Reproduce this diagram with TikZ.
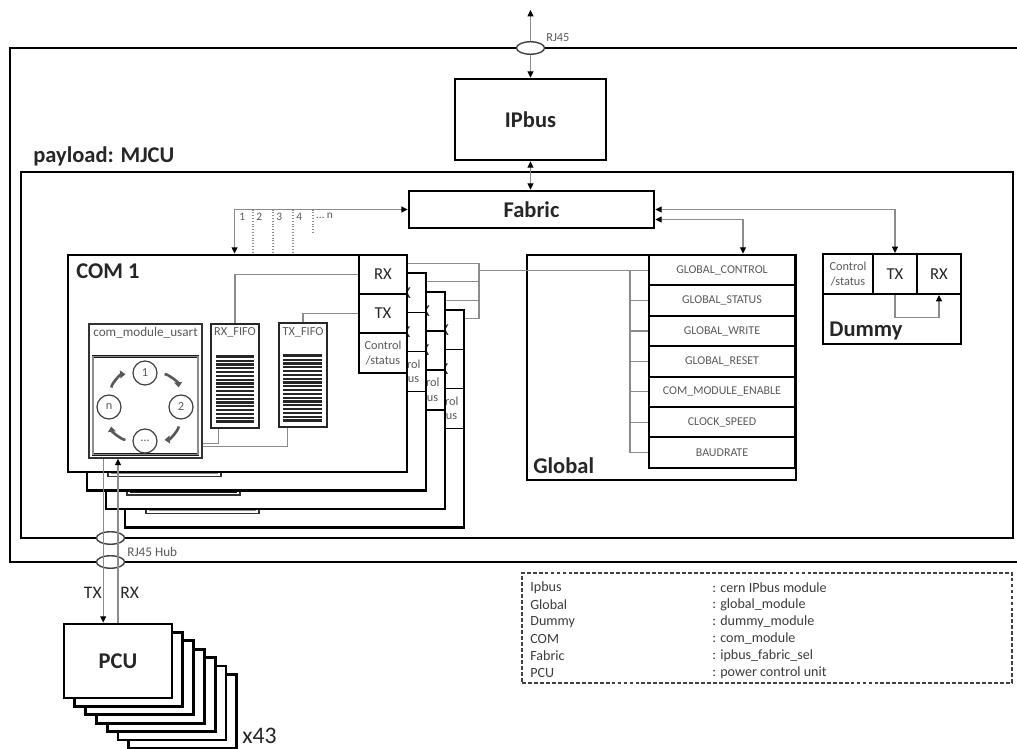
\documentclass[tikz,border=0pt]{standalone}
\usepackage{fontspec}
\setmainfont{Carlito}
\usepackage{xcolor}
\usepackage{tikz}
\usetikzlibrary{arrows.meta,shapes.geometric}

\definecolor{wiregray}{HTML}{8C8C8C}
\definecolor{labelgray}{HTML}{5A5A5A}
\definecolor{darktext}{HTML}{262626}

\begin{document}
\begin{tikzpicture}[
				x=0.2mm,
				y=-0.2mm,
				>={Triangle[length=3.6pt,width=3.4pt,color=black]},
				boxframe/.style={
					draw=black,
					line width=1.6pt,
					fill=white,
					inner sep=0pt
				},
				block/.style={
					boxframe,
					font=\bfseries\fontsize{12.8}{14}\selectfont,
					text=darktext
				},
				cell/.style={
					draw=black,
					line width=1.1pt,
					fill=white,
					inner sep=0pt,
					align=center
				},
				fifo/.style={
					draw=black!85,
					line width=0.9pt,
					fill=white,
					inner sep=0pt,
					minimum width=9.6mm,
					minimum height=20.8mm
				},
				state/.style={
					circle,
					draw=black!75,
					line width=0.7pt,
					fill=white,
					minimum size=4.8mm,
					inner sep=0pt,
					font=\fontsize{7}{8}\selectfont,
					text=labelgray
				},
				spin/.style={
					draw=black!65,
					line width=1.5pt,
					shorten <=1.4mm,
					shorten >=1.4mm,
					-{Triangle[length=3pt,width=4.4pt]}
				},
				wire/.style={
					draw=wiregray,
					line width=0.6pt
				},
				jack/.style={
					ellipse,
					draw=black!75,
					line width=0.8pt,
					fill=white,
					minimum width=5.6mm,
					minimum height=2.5mm,
					inner sep=0pt
				},
				title/.style={
					font=\bfseries\fontsize{12.8}{14}\selectfont,
					text=darktext,
					inner sep=0pt
				},
				smalltext/.style={
					font=\fontsize{7}{8}\selectfont,
					text=labelgray,
					inner sep=0pt
				},
				port/.style={
					font=\fontsize{9.5}{10}\selectfont,
					text=darktext
				},
				reg/.style={
					cell,
					minimum width=29.2mm,
					minimum height=6.08mm,
					font=\fontsize{6.8}{8}\selectfont,
					text=labelgray
				},
				legendtext/.style={
					font=\fontsize{8}{9}\selectfont,
					text=darktext!90,
					inner sep=0pt
				}
			]

				\useasboundingbox (0,0) rectangle (1017,749);

				\node[boxframe, minimum width=202.8mm, minimum height=102.8mm] (board) at (517,305) {};
				\node[boxframe, minimum width=198.4mm, minimum height=73.2mm] (payload) at (517,355) {};
				\node[title, anchor=base west] (payloadname) at (33,163) {payload: MJCU};

				\node[block, minimum width=30.2mm, minimum height=16.2mm] (ipbus) at (530.5,119.5) {IPbus};
				\coordinate (lan) at (530.5,10);
				\draw[wire, <->] (lan) -- (ipbus.north);
				\node[jack] (rj45) at (530.5,48) {};
				\node[smalltext, anchor=west] (rj45name) at (546,38) {RJ45};

				\node[block, minimum width=49mm, minimum height=7.4mm] (fabric) at (531.5,209.5) {Fabric};
				\draw[wire, <->] (ipbus.south) -- (ipbus.south |- fabric.north);

				\foreach \i in {3,2,1,0} {
					\begin{scope}[shift={(19*\i,18.5*\i)}]
						\node[boxframe, minimum width=67.8mm, minimum height=43.4mm] (com\i) at (237.5,363.5) {};
						\node[cell, port, minimum width=9.6mm, minimum height=7.8mm] (rx\i) at (383,274.5) {RX};
						\node[cell, port, minimum width=9.6mm, minimum height=7.8mm] (tx\i) at (383,313.5) {TX};
						\node[cell, smalltext, minimum width=9.6mm, minimum height=8mm] (ctl\i) at (383,353) {Control\\/status};
						\node[draw=black!80, line width=0.9pt, fill=white, inner sep=0pt,
							minimum width=22.6mm, minimum height=26.8mm] (usart\i) at (145.5,391) {};
						\node[draw=black!90, double=black!45, double distance=0.8pt, line width=0.45pt, fill=white, inner sep=0pt,
							minimum width=21mm, minimum height=19.6mm] (ring\i) at (145.5,405.5) {};
						\node[fifo] (rxfifo\i) at (235,376) {};
						\node[fifo] (txfifo\i) at (303,375) {};
						\coordinate (tap\i) at ([yshift=-1.8mm]rx\i.north east);
					\end{scope}
				}

				\node[title, anchor=north west] (comname) at (76,263) {COM 1};
				\node[smalltext, font=\fontsize{7.5}{8}\selectfont, anchor=north] (usartname) at (145.5,327) {com\_module\_usart};
				\node[smalltext, anchor=north] (rxfifoname) at (235,327) {RX\_FIFO};
				\node[smalltext, anchor=north] (txfifoname) at (303,327) {TX\_FIFO};

				\fill[black!85] (216,355) rectangle (254,423);
				\fill[black!85] (283,354) rectangle (322,422);
				\foreach \k in {1,...,17} {
					\draw[white, line width=0.8pt] (216,355+3.8*\k) -- (254,355+3.8*\k);
					\draw[white, line width=0.8pt] (283,354+3.8*\k) -- (322,354+3.8*\k);
				}

				\node[state] (st1) at (145,373) {1};
				\node[state] (st2) at (181,407) {2};
				\node[state] (st3) at (145,441) {…};
				\node[state] (stn) at (109,407) {n};
				\draw[spin] (st1) to[bend left=40] (st2);
				\draw[spin] (st2) to[bend left=40] (st3);
				\draw[spin] (st3) to[bend left=40] (stn);
				\draw[spin] (stn) to[bend left=40] (st1);

				\draw[wire] (rxfifo0.north) |- (rx0.west);
				\draw[wire] (txfifo0.north) |- (tx0.west);
				\draw[wire] ([xshift=1.6mm]rxfifo0.south west) |- ([yshift=3mm]usart0.south east);
				\draw[wire] ([xshift=1.8mm]txfifo0.south west) |- ([yshift=2.4mm]usart0.south east);

				\coordinate (busx) at (479,0);
				\foreach \i in {0,...,3}
					\draw[wire] (tap\i) -- (tap\i -| busx);
				\draw[wire] (tap0 -| busx) -- (tap3 -| busx);

				\draw[wire, <->] (fabric.west) -| ([xshift=33.6mm]com0.north west);
				\node[smalltext, font=\fontsize{6.5}{7}\selectfont, anchor=north west] (ch1) at (239,213) {1};
				\foreach \x/\c in {253/2,273/3,293/4} {
					\draw[wire, densely dotted] (\x,0 |- fabric.west) -- (\x,0 |- com0.north);
					\node[smalltext, font=\fontsize{6.5}{7}\selectfont, anchor=north west] (ch\c) at (\x+3,213) {\c};
				}
				\draw[wire, densely dotted] (313,0 |- fabric.west) -- (313,234);
				\node[smalltext, font=\fontsize{6.5}{7}\selectfont, anchor=north west] (chn) at (316,213) {… n};

				\node[boxframe, minimum width=53.8mm, minimum height=45mm] (global) at (661.5,367.5) {};
				\node[title, anchor=base west] (globalname) at (533,474) {Global};
				\foreach \r/\t [count=\k from 0] in {gctl/GLOBAL\_CONTROL, gstat/GLOBAL\_STATUS,
						gwrite/GLOBAL\_WRITE, greset/GLOBAL\_RESET, gcomen/COM\_MODULE\_ENABLE,
						gclk/CLOCK\_SPEED, gbaud/BAUDRATE}
					\node[reg] (\r) at (722,270.2+30.4*\k) {\t};

				\coordinate (gbusx) at (630,0);
				\draw[wire] (gctl.west -| busx) -- (gctl.west);
				\draw[wire] (gctl.west -| gbusx) -- (gbaud.west -| gbusx);
				\foreach \r in {gstat,gwrite,greset,gcomen,gclk,gbaud}
					\draw[wire] (\r.west -| gbusx) -- (\r.west);

				\node[boxframe, minimum width=27.6mm, minimum height=18mm] (dummy) at (892,299) {};
				\node[cell, smalltext, minimum width=10mm, minimum height=8mm] (dctl) at (848,274) {Control\\/status};
				\node[cell, port, minimum width=8.8mm, minimum height=8mm] (dtx) at (895,274) {TX};
				\node[cell, port, minimum width=8.8mm, minimum height=8mm] (drx) at (939,274) {RX};
				\node[title, anchor=base west] (dummyname) at (829,337) {Dummy};
				\draw[wire, ->] (dtx.south) -- ++(0,23) -| (drx.south);

				\draw[wire, <->] (fabric.east) -| (dtx.north);
				\draw[wire, <->] ([yshift=-2mm]fabric.east) -| ([xshift=16.3mm]global.north);

				\foreach \k in {6,5,...,1}
					\node[block, minimum width=21.6mm, minimum height=14.8mm] (pcu\k) at (118+10.8*\k,661+8.4*\k) {};
				\node[block, minimum width=21.6mm, minimum height=14.8mm] (pcu0) at (118,661) {PCU};
				\node[font=\fontsize{13.5}{15}\selectfont, text=darktext, anchor=west, inner sep=0pt] (count) at (242,736) {x43};

				\node[jack] (hub1) at (110.5,538) {};
				\node[jack] (hub2) at (110.5,562) {};
				\node[smalltext, font=\fontsize{7.5}{8}\selectfont, anchor=west] (hubname) at (127,552) {RJ45 Hub};

				\coordinate (txdown) at ([xshift=3mm]usart0.south west);
				\draw[wire, ->] (txdown) -- (txdown |- pcu0.north);
				\draw[wire, ->] (pcu0.north) -- (pcu0.north |- usart0.south);
				\node[port, font=\fontsize{10}{11}\selectfont, anchor=east, inner sep=0pt] (txname) at (102,593) {TX};
				\node[port, font=\fontsize{10}{11}\selectfont, anchor=west, inner sep=0pt] (rxname) at (120,593) {RX};

				\node[draw=black!75, line width=0.6pt, dash pattern=on 2.2pt off 1.2pt,
					minimum width=98mm, minimum height=22mm, inner sep=0pt] (legend) at (767,628) {};
				\foreach \mkey/\mval [count=\k from 0] in {Ipbus/cern IPbus module, Global/global\_module,
						Dummy/dummy\_module, COM/com\_module, Fabric/ipbus\_fabric\_sel, PCU/power control unit} {
					\node[legendtext, anchor=west] (key\k) at (530,588+17*\k) {\mkey};
					\node[legendtext, anchor=west] (val\k) at (712,588+17*\k) {: \mval};
				}

			\end{tikzpicture}
\end{document}
